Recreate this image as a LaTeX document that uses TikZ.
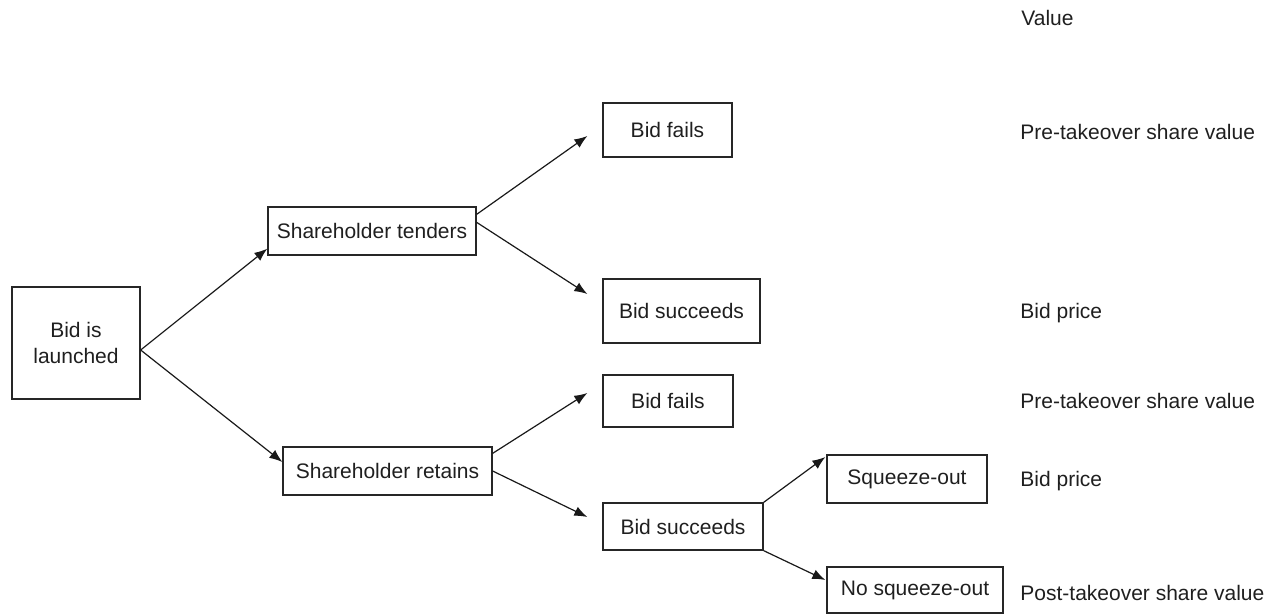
\documentclass[tikz,border=0pt]{standalone}
\usepackage{fontspec}
\setmainfont{Liberation Sans}
\usetikzlibrary{arrows.meta,calc}
\begin{document}
\begin{tikzpicture}[x=0.5pt,y=-0.5pt,
  every node/.style={font=\fontsize{10.5}{12.6}\selectfont,text=black!88},
  bx/.style={draw=black!85,line width=0.65pt,inner sep=0pt,align=center},
  lbl/.style={anchor=west,inner sep=0pt},
  conn/.style={draw=black!90,line width=0.6pt,-{Latex[length=6.5pt,width=5pt]}}]
\useasboundingbox (0,0) rectangle (1272,615);
\node[bx,minimum width=64pt,minimum height=56pt] (launch) at (76,343) {Bid is\\launched};
\node[bx,minimum width=104pt,minimum height=24pt] (tend) at (372,231) {Shareholder tenders};
\node[bx,minimum width=104.5pt,minimum height=24pt] (ret) at (387.5,471) {Shareholder retains};
\node[bx,minimum width=64.5pt,minimum height=27pt] (fail1) at (667.5,130) {Bid fails};
\node[bx,minimum width=78.5pt,minimum height=32pt] (succ1) at (681.5,311) {Bid succeeds};
\node[bx,minimum width=65pt,minimum height=26pt] (fail2) at (668,401) {Bid fails};
\node[bx,minimum width=80pt,minimum height=23.5pt] (succ2) at (683,526.5) {Bid succeeds};
\node[bx,minimum width=80pt,minimum height=24pt] (sq) at (907,479) {Squeeze-out};
\node[bx,minimum width=88pt,minimum height=23pt] (nosq) at (915,590) {No squeeze-out};

\node[lbl] (vh) at (1021,18) {Value};
\node[lbl] (v1) at (1020,132) {Pre-takeover share value};
\node[lbl] (v2) at (1020,313) {Bid price};
\node[lbl] (v3) at (1020,401) {Pre-takeover share value};
\node[lbl] (v4) at (1020,481) {Bid price};
\node[lbl] (v5) at (1020,593) {Post-takeover share value};

\coordinate (t1) at ($(fail1.west)+(-15,6)$);
\coordinate (t2) at ($(succ1.west)+(-15,-17)$);
\coordinate (t3) at ($(fail2.west)+(-15,-8)$);
\coordinate (t4) at ($(succ2.west)+(-15,-9.5)$);
\coordinate (t5) at ($(sq.west)+(-1,-22)$);
\coordinate (t6) at ($(nosq.west)+(-1,-10)$);

\draw[conn] ($(launch.east)+(0,7)$) -- ($(tend.south west)+(0,-7)$);
\draw[conn] ($(launch.east)+(0,7)$) -- ($(ret.west)+(0,-9)$);
\draw[conn] ($(tend.north east)+(0,8)$) -- (t1);
\draw[conn] ($(tend.north east)+(0,16)$) -- (t2);
\draw[conn] ($(ret.north east)+(0,7)$) -- (t3);
\draw[conn] (ret.east) -- (t4);
\draw[conn] (succ2.north east) -- (t5);
\draw[conn] (succ2.south east) -- (t6);
\end{tikzpicture}
\end{document}
